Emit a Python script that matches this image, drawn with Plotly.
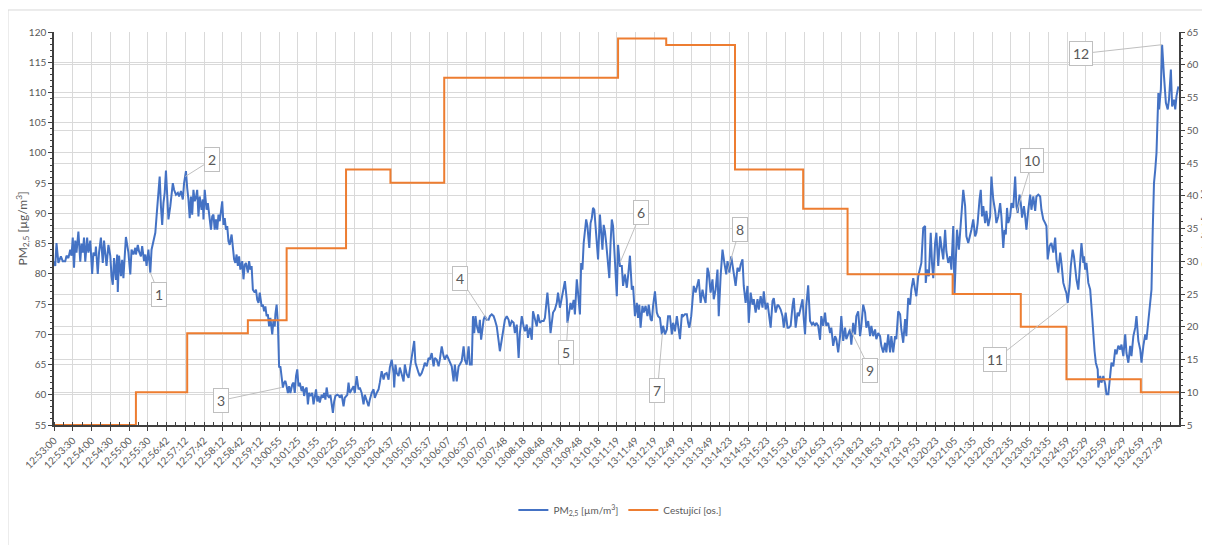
import plotly.graph_objects as go

# ---------------- data ----------------
time_labels = ["12:53:00","12:53:30","12:54:00","12:54:30","12:55:00","12:55:30","12:56:42","12:57:12",
    "12:57:42","12:58:12","12:58:42","12:59:12","13:00:55","13:01:25","13:01:55","13:02:25","13:02:55",
    "13:03:25","13:04:37","13:05:07","13:05:37","13:06:07","13:06:37","13:07:07","13:07:48","13:08:18",
    "13:08:48","13:09:18","13:09:48","13:10:18","13:11:19","13:11:49","13:12:19","13:12:49","13:13:19",
    "13:13:49","13:14:23","13:14:53","13:15:23","13:15:53","13:16:23","13:16:53","13:17:53","13:18:23",
    "13:18:53","13:19:23","13:19:53","13:20:23","13:21:05","13:21:35","13:22:05","13:22:35","13:23:05",
    "13:23:35","13:24:59","13:25:29","13:25:59","13:26:29","13:26:59","13:27:29"]
label_step = 30          # one time label every 30 samples
n_samples = 1800         # samples (seconds) in the record

# PM2.5 samples: sample number and value
pm_idx = [0,2,4,7,11,14,18,20,23,26,28,30,32,34,36,39,42,44,46,48,50,53,55,58,61,63,66,67,70,72,75,78,80,82,84,87,90,92,94,96,99,101,102,104,107,109,111,115,117,119,122,124,127,130,131,134,136,139,141,144,146,148,151,154,156,159,162,164,167,169,171,173,175,177,179,181,183,186,188,190,192,195,198,200,203,206,208,211,213,215,217,219,221,223,225,227,229,231,233,236,238,239,241,244,246,248,251,253,255,257,259,261,263,265,267,269,271,273,275,277,279,281,284,286,288,290,292,294,296,298,301,303,305,307,310,312,314,316,318,321,323,325,327,329,332,334,336,338,340,342,344,346,349,351,353,354,356,358,359,360,362,364,366,368,370,372,374,376,378,381,383,385,387,389,391,393,396,398,400,402,404,406,408,410,413,415,417,419,421,423,425,428,430,432,434,436,438,440,442,444,446,448,450,453,456,
    457,460,463,465,469,471,473,476,479,481,484,487,489,492,495,497,500,503,505,508,511,513,516,519,521,524,527,529,532,535,537,540,543,544,546,548,551,553,556,559,561,564,567,569,572,574,576,578,580,583,585,588,591,593,596,599,601,604,607,609,612,615,617,620,623,625,628,631,633,636,639,641,644,647,649,652,655,657,660,663,665,668,670,672,674,676,679,681,683,685,687,689,692,695,697,700,703,705,708,711,713,716,719,721,724,727,729,732,735,737,740,743,745,748,751,753,756,758,761,764,766,769,772,774,777,780,783,785,788,789,792,794,796,798,801,804,806,809,812,814,817,820,821,824,826,828,831,833,836,838,841,843,845,847,849,851,853,856,858,860,862,864,866,868,870,873,875,877,879,881,883,885,888,890,892,894,896,898,900,902,905,
    908,910,913,916,918,921,924,926,929,932,934,936,938,941,943,946,949,951,954,956,958,961,964,966,969,972,974,977,980,982,985,988,990,993,996,998,1001,1004,1006,1009,1012,1014,1016,1019,1021,1023,1026,1029,1031,1034,1037,1039,1042,1045,1047,1050,1053,1055,1058,1061,1063,1066,1069,1072,1075,1077,1080,1083,1085,1088,1090,1093,1096,1098,1101,1103,1106,1109,1111,1114,1117,1119,1122,1125,1127,1130,1133,1135,1138,1141,1143,1146,1149,1151,1154,1157,1159,1162,1165,1167,1170,1173,1175,1178,1181,1183,1186,1189,1191,1194,1197,1199,1201,1203,1206,1209,1212,1214,1217,1219,1222,1225,1227,1230,1233,1235,1238,1241,1243,1246,1249,1251,1254,1257,1259,1262,1265,1267,1270,1273,1275,1278,1281,1283,1286,1289,1291,1294,1297,1299,1302,1305,1307,1310,1313,1315,1318,1321,1323,1326,1329,1331,1334,1337,1339,1342,1345,1347,1350,1353,1355,1358,1361,1363,1366,1369,
    1371,1374,1377,1379,1382,1385,1387,1390,1393,1394,1396,1399,1402,1404,1406,1409,1411,1414,1417,1419,1422,1425,1427,1430,1433,1435,1438,1440,1442,1444,1447,1450,1452,1454,1457,1459,1462,1465,1467,1470,1473,1475,1477,1480,1482,1484,1486,1489,1491,1494,1497,1499,1502,1505,1507,1510,1513,1515,1518,1520,1522,1524,1526,1529,1531,1534,1537,1539,1541,1544,1546,1548,1551,1553,1555,1558,1561,1563,1566,1569,1571,1574,1577,1579,1582,1585,1587,1589,1592,1595,1598,1601,1603,1606,1609,1611,1614,1617,1619,1621,1624,1626,1629,1631,1633,1635,1638,1641,1643,1646,1647,1649,1651,1654,1657,1659,1661,1664,1666,1669,1670,1673,1675,1678,1681,1683,1686,1689,1691,1694,1697,1699,1702,1705,1707,1710,1713,1715,1718,1721,1723,1726,1729,1731,1734,1737,1739,1742,1745,1747,1750,1752,1755,1757,1759,1761,1763,1766,1767,1770,1772,1775,1778,1781,1783,1786,1788,1791,1793,1795,1798]
pm25 = [82.1,81.3,85.1,81.8,82.9,82.1,82.1,83,82.6,84,83,86,81,85.5,83.5,87,82,85,83.5,86,82,86,83.5,85.5,80,83.5,83,84.5,80,83.5,86,81.8,85.5,83.5,81.3,84.8,83,79.6,78.2,82.6,79,83.2,77,83,79.6,82.3,79.3,86.1,84.5,83.5,79.9,84,83.2,84.3,83.2,84.8,83.7,82.9,84.6,82.1,83.2,81.3,84,80.2,84,85.7,86.8,89.5,94.5,96.1,91.2,88.1,91.7,93.4,97.1,92.8,89,91.2,93.4,95,93.9,93.1,93.4,92.8,93.7,92.3,95,97,94.2,92.3,89.2,92.8,89.8,93.9,92,92.6,93.9,89.5,92.8,90.6,92.3,89,93.9,90.6,91.7,89.5,87.3,89.5,89.8,87.3,89,87.3,89.8,88.7,90,92,88.1,89.2,87.3,87.9,85.4,84.8,86.5,84.3,82.4,81.8,83.2,81.3,82.9,80.7,82.1,79.1,81.5,81.8,80.2,82.1,80.7,81.3,77.4,76.9,77.4,75.7,75.2,76.9,74.6,74.9,73.8,74.6,73,73.3,71.3,72.7,70,72.4,71.3,73.3,74.9,71.9,68,64.5,64.7,63.1,61.2,62,62.3,61.4,60.3,61.4,60.3,61.7,62,60.3,63.1,64.2,61.4,62,60.6,61.4,59.8,60.9,61.2,58.4,60.3,59.8,60.3,58.4,60,60.9,58.9,59.8,58.7,60,59.5,60.3,59.2,61.2,59.8,59.5,60,58.7,57,58.9,59.8,60,59.8,
    59.5,60,58.1,59.5,60,62,60.3,60.9,61.4,60.3,63.1,60.9,61.2,60.3,58.4,60,59.2,58.1,59.2,60.3,60.9,59.5,60.3,60.9,62,63.9,62.5,63.4,63.6,62.5,64.5,65.8,63.6,61.2,65,63.6,63.1,64.5,63.4,62.2,65,63.4,62.8,64.2,66.9,68.3,68.9,65.3,64.5,63.6,63.1,63.6,64.5,65.3,64.7,66.1,65.8,66.9,64.7,66.1,65.8,64.7,65.8,68,66.4,65.8,66.6,65.8,65.3,64.7,62.2,65,62.2,64.7,65,65.6,68,65.8,65,68,65,65,73,70.2,73,71.4,70.2,72.4,69.1,70.8,72.4,73,72.4,72.4,73,73.3,73,72.4,71.3,68.9,67.2,69.1,71.6,72.4,73,72.4,71.3,72.2,71.9,70.2,71.6,66.1,70.2,73,71.3,70.5,71.6,69.4,71.1,69.1,73.8,72.4,71.3,73.3,71.9,72.2,72.2,72.7,75.2,76.9,73.3,70.2,71.9,73.6,74.1,75.2,76.9,74.4,76,76.9,78.8,75.7,71.9,73.8,75.2,74.1,75.7,73.3,79.1,76.9,73.3,81.8,80.7,85.1,87.3,89,87.9,84.3,88.4,89.2,90.9,90.6,87.9,85.7,82.4,89.8,87.3,84,88.1,87,85.1,83.2,79.3,85.1,89,87.9,84.3,80.7,76.3,84.8,81.3,
    81.3,78,79.9,77.7,79.6,83,77.4,78,73,75.2,72.7,74.9,71.1,74.7,73.6,74.7,73,74.9,72.5,72.2,74.7,77.1,73.6,73,72.7,70,71.4,70,70.8,73,73,70,71.9,70.5,73,71.4,69.2,73.3,73,73.3,73.3,71.9,71.1,73,75.8,78,76.9,78,79.1,75.2,77.4,76.3,75.2,81,80.2,76.9,79.1,75.8,77.4,80.7,73,79.6,84,81.8,79.9,82.1,80.2,82.9,81.3,79.3,78,81,80.4,81.5,82.4,78,75.2,78,71.9,76.9,74.9,75.8,73.6,75.8,74.1,76.3,74.4,77.1,74.1,75.2,73.6,71.1,75.5,76,73.6,74.9,74.7,74.1,73,71.1,73.6,71.1,71.1,71.4,74.7,76,71.1,73.6,73,74.7,75.8,72.5,70,74.7,78.1,72.2,71.6,71.9,71.4,71.9,71.4,69.1,73,71.4,73.6,71.4,71.9,70.2,71.1,68.1,69.7,69.2,67,69.7,73,68.9,71.1,69.2,70.2,70.8,68.3,71.9,70,73,73.8,69.7,71.4,74.9,73.6,71.1,72.2,69.7,71.4,69.7,70.8,69.2,70.2,69.7,68.1,67,68.6,67,70,67,69.7,67,69.7,69.2,73.8,73.3,70.8,68.6,72.5,69.7,76,74.9,
    77.4,79.3,77.4,76.3,79.6,81,81.8,87.6,87.9,78.5,80.7,79.6,86.8,81.8,79.3,85.1,86.8,81.3,86.2,84.6,82.4,87.3,83.7,81.8,82.9,80.7,87.9,76.8,82.4,87.3,84,88.4,91.2,93.9,91.2,86.2,85.1,86.2,87.3,89,86.2,86.8,88.4,92.3,93.9,89.5,91.2,88.4,90.4,87.9,89.5,96.1,92.3,90.4,88.4,89.5,91.7,89.5,84.3,87.3,86.5,90.9,88.4,89.5,91.7,90.9,96.1,91.2,90.1,93.1,91.7,89.3,91.2,89.5,87.3,90.6,93.1,90.6,92.8,90.4,92.8,93.1,92.8,90.6,89,88.4,87.9,82.4,84.6,85.1,83.5,86,82.4,80.2,83.5,81.8,78.5,77.4,76.8,75.2,78,81.3,84,82.9,80.7,79.1,77.4,81.3,85.1,81.8,82.9,80.7,81.8,78.5,77.4,74.6,70.8,67.2,65.3,64.2,61.2,63.1,62,63.1,61.7,60.1,60.1,63.1,65.3,64.7,67.5,66.7,68.1,67.5,68.3,66.4,70,66.9,65.3,68.1,66.4,69.7,71.1,73,68.9,67.5,65.3,68.1,70,69.1,71.9,74.1,77.4,87.3,95,97.2,100,109.9,107.2,110.5,117.9,112.7,108.3,107.2,108.8,113.8,107.7,108.8,107.2,109.4,111]

# Passengers (Cestující): sample number where a new count starts, and the count
cest_idx = [0, 131, 213, 310, 372, 467, 538, 624, 902, 979, 1089, 1198, 1269, 1437, 1546, 1619, 1738, 1799]
cest_val = [5, 10, 19, 21, 32, 44, 42, 58, 64, 63, 44, 38, 28, 25, 20, 12, 10, 10]

# numbered callouts: label, sample number, PM2.5 value
callout_labels = ["1","2","3","4","5","6","7","8","9","10","11","12"]
callout_idx = [154, 210, 364, 694, 822, 905, 973, 1077, 1272, 1539, 1619, 1772]
callout_val = [80.2, 96.1, 61.2, 72.2, 72.2, 81.8, 70.2, 80.4, 71.1, 90.1, 75.1, 117.9]

# ---------------- styling ----------------
callout_offsets = [(9,22),(27,-17),(-61,13),(-28,-43),(-2,31),(21,-50),(-5,57),(12,-42),(21,43),(16,-52),(-71,56),(-81,9)]

FONT = "Lato, 'Open Sans', sans-serif"
GREY = "#595959"
GRID = "#d9d9d9"

fig = go.Figure()
fig.add_trace(go.Scatter(x=pm_idx, y=pm25, mode="lines", name="PM<sub>2,5</sub> [µm/m<sup>3</sup>]",
                         line=dict(color="#4472C4", width=2), yaxis="y"))
fig.add_trace(go.Scatter(x=cest_idx, y=cest_val, mode="lines", name="Cestující [os.]",
                         line=dict(color="#ED7D31", width=2, shape="hv"), yaxis="y2"))

tickvals = [i * label_step for i in range(len(time_labels))]

fig.update_layout(
    width=1210, height=545,
    margin=dict(l=46, r=39, t=24, b=128),
    paper_bgcolor="white", plot_bgcolor="white",
    font=dict(family=FONT, color=GREY, size=10),
    showlegend=True,
    legend=dict(orientation="h", x=0.503, y=-0.216, xanchor="center", yanchor="middle",
                font=dict(size=10, color=GREY), itemwidth=30, tracegroupgap=0),
    xaxis=dict(range=[0, n_samples - 1], tickmode="array", tickvals=tickvals, ticktext=time_labels,
               tickangle=-45, tickfont=dict(size=10, color=GREY),
               showgrid=True, gridcolor=GRID, gridwidth=1, zeroline=False,
               showline=True, linecolor="#404040", linewidth=1.5,
               ticks="outside", ticklen=4, tickcolor="#404040",
               minor=dict(dtick=15, tick0=0, ticks="inside", ticklen=3, tickcolor="#404040", showgrid=False)),
    yaxis=dict(range=[55, 120], dtick=5, tick0=55, showgrid=True, gridcolor=GRID, gridwidth=1,
               zeroline=False, showline=True, linecolor="#404040", linewidth=1.5,
               ticks="outside", ticklen=4, tickcolor="#404040", tickfont=dict(size=10, color=GREY),
               minor=dict(dtick=1, ticks="outside", ticklen=2, tickcolor="#404040", showgrid=False)),
    yaxis2=dict(range=[5, 65], dtick=5, tick0=5, overlaying="y", side="right",
                showgrid=True, gridcolor=GRID, gridwidth=1, zeroline=False,
                showline=True, linecolor="#404040", linewidth=1.5,
                ticks="outside", ticklen=4, tickcolor="#404040", tickfont=dict(size=10, color=GREY),
                minor=dict(dtick=1, ticks="outside", ticklen=2, tickcolor="#404040", showgrid=False)),
)

# chart-area border
fig.add_shape(type="rect", xref="paper", yref="paper", x0=-0.0409, x1=1.04, y0=-0.33, y1=1.056,
              line=dict(color="#d9d9d9", width=1), fillcolor="rgba(0,0,0,0)", layer="below")

# axis titles
fig.add_annotation(xref="paper", yref="paper", x=-0.0284, y=0.5, textangle=-90, showarrow=False,
                   text="PM<sub>2,5</sub> [µg/m<sup>3</sup>]", font=dict(size=12, color=GREY),
                   xanchor="center", yanchor="middle")
fig.add_annotation(xref="paper", yref="paper", x=1.0235, y=0.5, textangle=-90, showarrow=False,
                   text="Cestující [osob]", font=dict(size=12, color=GREY),
                   xanchor="center", yanchor="middle")

# callouts
for lab, xi, yv, (ox, oy) in zip(callout_labels, callout_idx, callout_val, callout_offsets):
    fig.add_annotation(x=xi, y=yv, xref="x", yref="y", text=lab, showarrow=True,
                       arrowhead=0, arrowwidth=1, arrowcolor="#bfbfbf", ax=ox, ay=oy,
                       font=dict(size=14, color=GREY), bgcolor="white",
                       bordercolor="#bfbfbf", borderwidth=1, borderpad=3)

fig.write_html("out.html")
